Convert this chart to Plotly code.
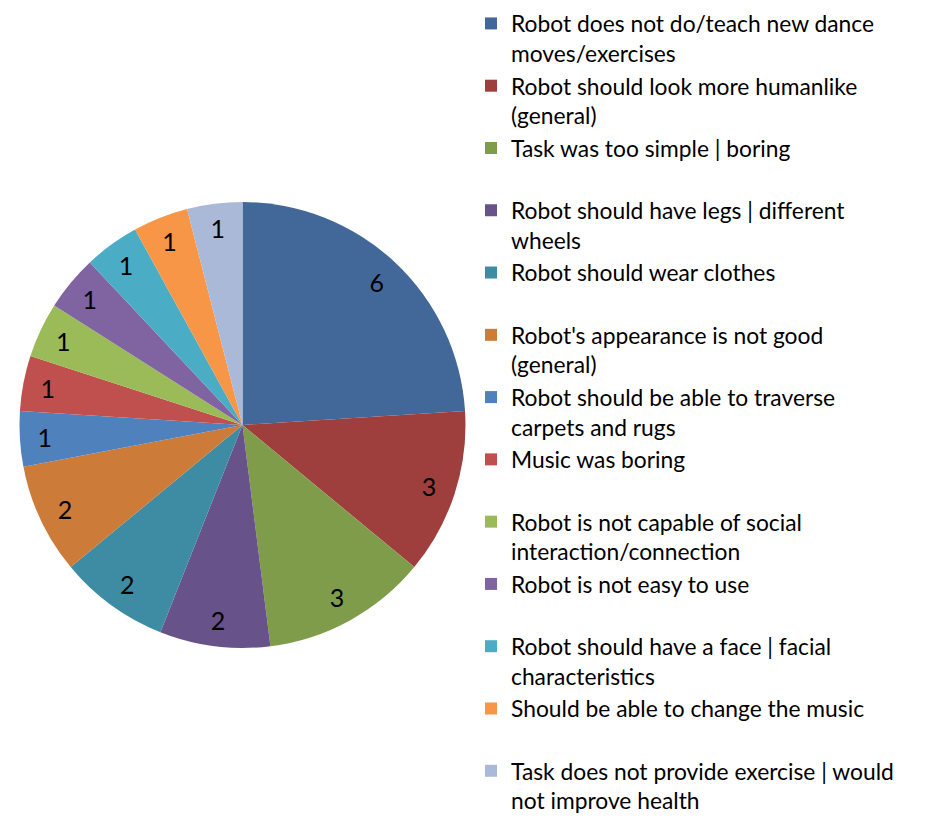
import plotly.graph_objects as go

## categories, counts and colours
labels = ['Robot does not do/teach new dance<br>moves/exercises',
          'Robot should look more humanlike<br>(general)',
          'Task was too simple | boring<br>&nbsp;',
          'Robot should have legs | different<br>wheels',
          'Robot should wear clothes<br>&nbsp;',
          "Robot's appearance is not good<br>(general)",
          'Robot should be able to traverse<br>carpets and rugs',
          'Music was boring<br>&nbsp;',
          'Robot is not capable of social<br>interaction/connection',
          'Robot is not easy to use<br>&nbsp;',
          'Robot should have a face | facial<br>characteristics',
          'Should be able to change the music<br>&nbsp;',
          'Task does not provide exercise | would<br>not improve health']
values = [6, 3, 3, 2, 2, 2, 1, 1, 1, 1, 1, 1, 1]
colors = ['#416899', '#9E3F3D', '#7F9C4A', '#67528A', '#3D8CA3', '#CC7B38',
          '#4F81BD', '#C0504D', '#9BBB59', '#8064A2', '#4BACC6', '#F79646', '#A9B9D7']

# page body has an 8px margin, so the domain is shifted up/left by that
dom = dict(x=[0.0118, 0.4930], y=[0.2224, 0.7643])

fig = go.Figure()
## the coloured pie itself
fig.add_trace(go.Pie(labels=labels, values=values, sort=False,
                     direction='clockwise', rotation=0, domain=dom,
                     marker=dict(colors=colors, line=dict(width=0)),
                     textinfo='none', hoverinfo='label+value'))
## transparent ring on top, only to push the value labels out toward the rim
fig.add_trace(go.Pie(labels=labels, values=values, sort=False,
                     direction='clockwise', rotation=0, domain=dom, hole=0.76,
                     marker=dict(colors=['rgba(0,0,0,0)'] * len(values), line=dict(width=0)),
                     textinfo='value', textposition='inside', insidetextorientation='horizontal',
                     textfont=dict(family='Lato', size=25, color='black'),
                     showlegend=False, hoverinfo='skip'))

## legend anchored at its middle so it fills the full height without scrolling
fig.update_layout(
    width=929, height=823,
    margin=dict(l=0, r=0, t=0, b=0, autoexpand=False),
    paper_bgcolor='white', plot_bgcolor='white',
    legend=dict(x=0.4984, y=0.509, xanchor='left', yanchor='middle', valign='top',
                font=dict(family='Lato', size=22.8, color='black'),
                bgcolor='rgba(0,0,0,0)'),
)

fig.write_html('out.html')
